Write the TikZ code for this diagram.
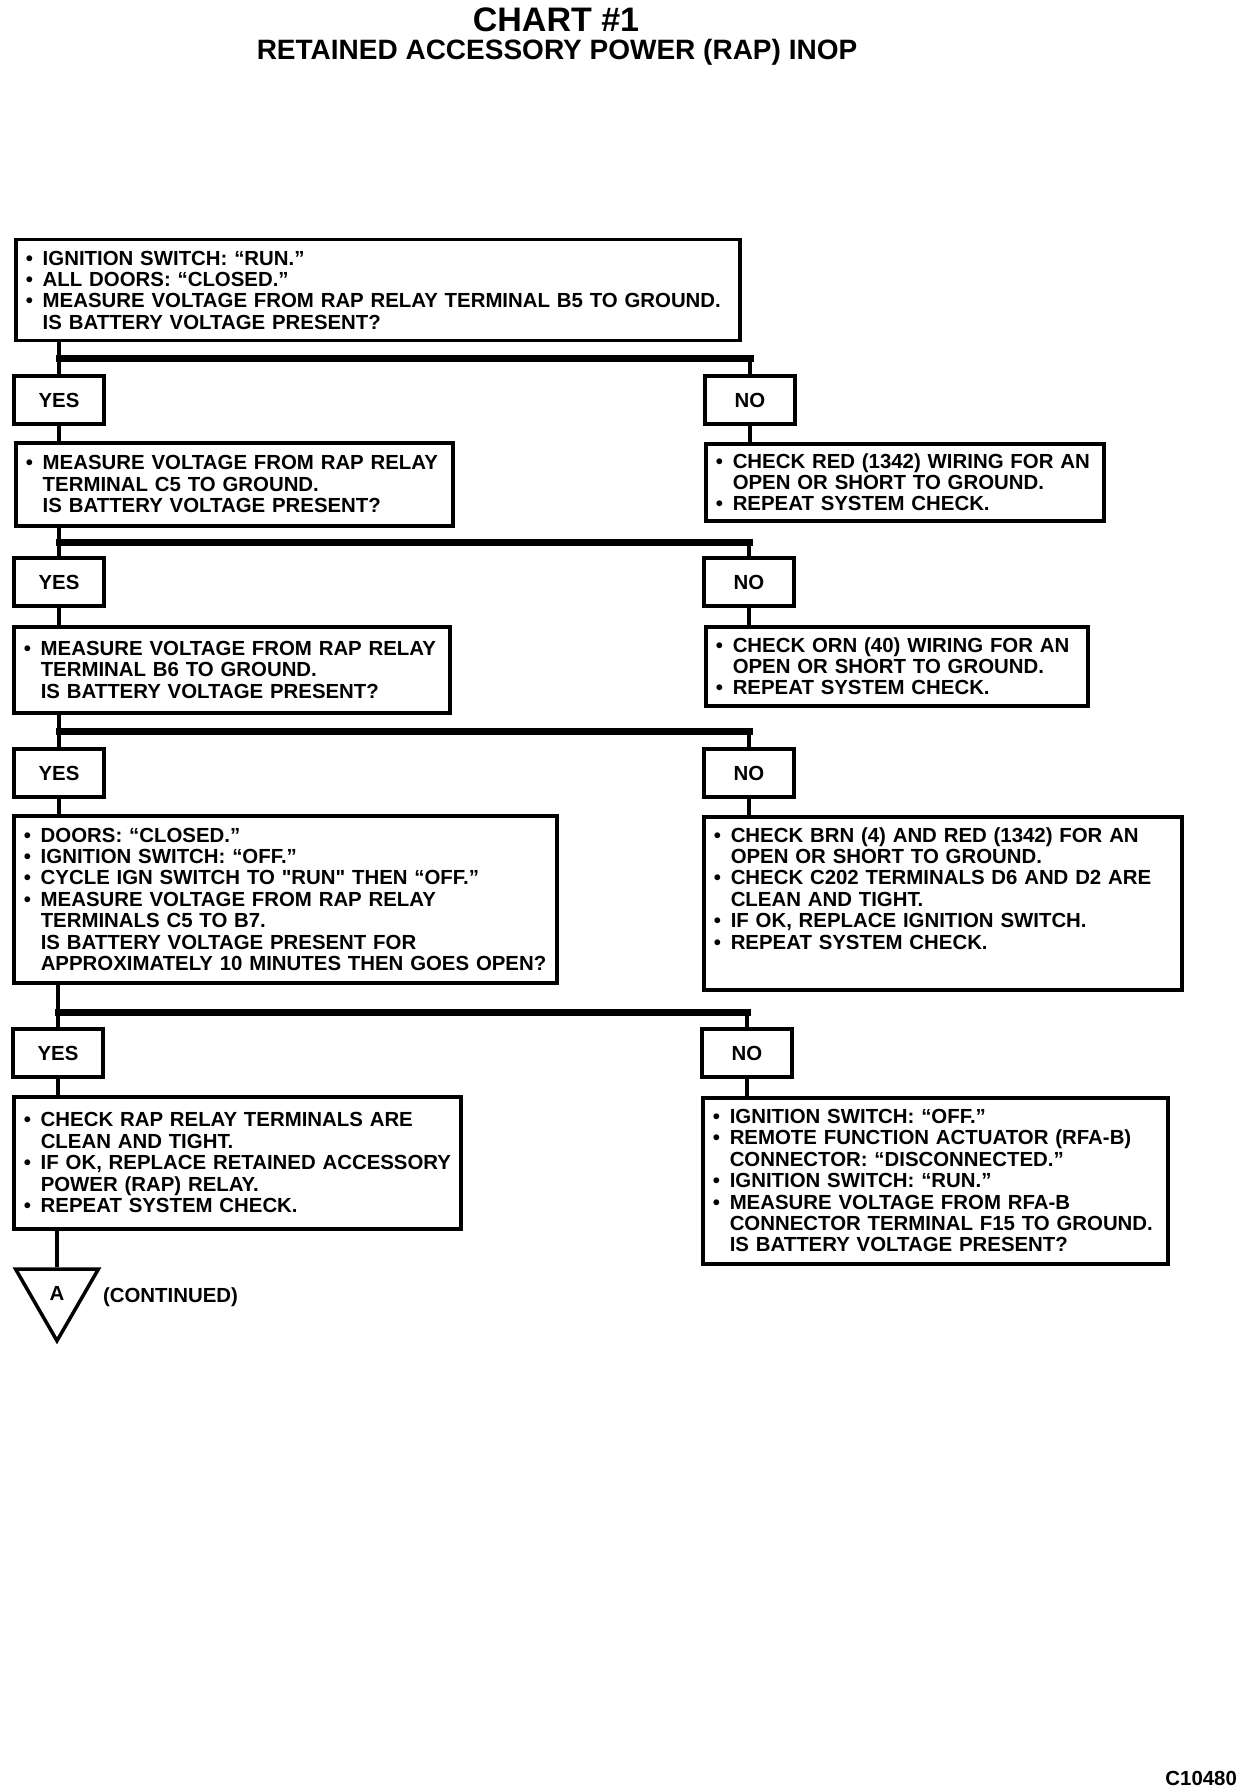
\documentclass[tikz,border=0pt]{standalone}
\usepackage{fontspec}
\setmainfont{Liberation Sans}
\usetikzlibrary{shapes.geometric}

\newcommand{\bul}[1]{\mbox{\makebox[8.5pt][l]{\textbullet}#1}}
\newcommand{\ind}[1]{\mbox{\hspace*{8.5pt}#1}}
\newcommand{\chartfont}{\fontsize{10.2pt}{10.7pt}\selectfont\bfseries\parindent=0pt}

\tikzset{
  stepbox/.style={draw, line width=1.75pt, anchor=north west, inner xsep=5pt, inner ysep=0pt, align=left, font=\chartfont},
  answer/.style={draw, line width=1.75pt, minimum width=45pt, minimum height=24pt, inner sep=0pt, font=\chartfont},
  vline/.style={line width=2.2pt},
  hbar/.style={line width=3.5pt, line cap=rect},
}

\begin{document}
\begin{tikzpicture}[x=0.5pt, y=-0.5pt]
   \useasboundingbox (0,0) rectangle (1248,1792);
   \fill[white] (0,0) rectangle (1248,1792);

   % title
   \node[font=\fontsize{17pt}{17pt}\selectfont\bfseries] (chart) at (556,20) {CHART \#1};
   \node[font=\fontsize{14pt}{14pt}\selectfont\bfseries] (title) at (557,52) {RETAINED ACCESSORY POWER (RAP) INOP};

   % first check
   \node[stepbox, text width=352pt, minimum height=50.5pt] (rapb5) at (14,238) {\bul{IGNITION SWITCH: “RUN.”}\\ \bul{ALL DOORS: “CLOSED.”}\\ \bul{MEASURE VOLTAGE FROM RAP RELAY TERMINAL B5 TO GROUND.}\\ \ind{IS BATTERY VOLTAGE PRESENT?}};
   \node[answer] (yes1) at (59,400) {YES};
   \node[answer] (no1) at (750,400) {NO};

   % second check
   \node[stepbox, text width=208.5pt, minimum height=41.5pt] (rapc5) at (14,441) {\bul{MEASURE VOLTAGE FROM RAP RELAY}\\ \ind{TERMINAL C5 TO GROUND.}\\ \ind{IS BATTERY VOLTAGE PRESENT?}};
   \node[stepbox, text width=189pt, minimum height=38.5pt] (redwire) at (704,442) {\bul{CHECK RED (1342) WIRING FOR AN}\\ \ind{OPEN OR SHORT TO GROUND.}\\ \bul{REPEAT SYSTEM CHECK.}};
   \node[answer] (yes2) at (59,582) {YES};
   \node[answer] (no2) at (749,582) {NO};

   % third check
   \node[stepbox, text width=208pt, minimum height=43pt] (rapb6) at (12,625) {\bul{MEASURE VOLTAGE FROM RAP RELAY}\\ \ind{TERMINAL B6 TO GROUND.}\\ \ind{IS BATTERY VOLTAGE PRESENT?}};
   \node[stepbox, text width=181pt, minimum height=39.5pt] (ornwire) at (704,625) {\bul{CHECK ORN (40) WIRING FOR AN}\\ \ind{OPEN OR SHORT TO GROUND.}\\ \bul{REPEAT SYSTEM CHECK.}};
   \node[answer] (yes3) at (59,773) {YES};
   \node[answer] (no3) at (749,773) {NO};

   % fourth check
   \node[stepbox, text width=261.5pt, minimum height=83.5pt] (rapc5b7) at (12,814) {\bul{DOORS: “CLOSED.”}\\ \bul{IGNITION SWITCH: “OFF.”}\\ \bul{CYCLE IGN SWITCH TO \textquotedbl RUN\textquotedbl\ THEN “OFF.”}\\ \bul{MEASURE VOLTAGE FROM RAP RELAY}\\ \ind{TERMINALS C5 TO B7.}\\ \ind{IS BATTERY VOLTAGE PRESENT FOR}\\ \ind{APPROXIMATELY 10 MINUTES THEN GOES OPEN?}};
   \node[stepbox, text width=229pt, minimum height=86.5pt] (brnwire) at (702,815) {\bul{CHECK BRN (4) AND RED (1342) FOR AN}\\ \ind{OPEN OR SHORT TO GROUND.}\\ \bul{CHECK C202 TERMINALS D6 AND D2 ARE}\\ \ind{CLEAN AND TIGHT.}\\ \bul{IF OK, REPLACE IGNITION SWITCH.}\\ \bul{REPEAT SYSTEM CHECK.}\rule[-15pt]{0pt}{15pt}};
   \node[answer] (yes4) at (58,1053) {YES};
   \node[answer] (no4) at (747,1053) {NO};

   % last boxes
   \node[stepbox, text width=213.5pt, minimum height=66pt] (relayclean) at (12,1095) {\bul{CHECK RAP RELAY TERMINALS ARE}\\ \ind{CLEAN AND TIGHT.}\\ \bul{IF OK, REPLACE RETAINED ACCESSORY}\\ \ind{POWER (RAP) RELAY.}\\ \bul{REPEAT SYSTEM CHECK.}};
   \node[stepbox, text width=222.5pt, minimum height=83pt] (rfab) at (701,1096) {\bul{IGNITION SWITCH: “OFF.”}\\ \bul{REMOTE FUNCTION ACTUATOR (RFA-B)}\\ \ind{CONNECTOR: “DISCONNECTED.”}\\ \bul{IGNITION SWITCH: “RUN.”}\\ \bul{MEASURE VOLTAGE FROM RFA-B}\\ \ind{CONNECTOR TERMINAL F15 TO GROUND.}\\ \ind{IS BATTERY VOLTAGE PRESENT?}};

   % continued
   \node[draw, line width=1.75pt, regular polygon, regular polygon sides=3, shape border rotate=180, minimum size=47.8pt, inner sep=0pt, font=\chartfont] (contA) at (57,1293) {A};
   \node[anchor=west, font=\chartfont] (cont) at (96,1297) {(CONTINUED)};
   \node[anchor=east, font=\chartfont] (figno) at (1244,1778) {C10480};

   % splits
   \coordinate (split1) at (0,359);
   \coordinate (split2) at (0,542);
   \coordinate (split3) at (0,731);
   \coordinate (split4) at (0,1012);

   \draw[vline] (yes1.north |- rapb5.south) -- (yes1.north);
   \draw[hbar] (split1 -| yes1) -- (split1 -| no1);
   \draw[vline] (split1 -| no1) -- (no1.north);
   \draw[vline] (yes1.south) -- (yes1.south |- rapc5.north);
   \draw[vline] (no1.south) -- (no1.south |- redwire.north);

   \draw[vline] (yes2.north |- rapc5.south) -- (yes2.north);
   \draw[hbar] (split2 -| yes2) -- (split2 -| no2);
   \draw[vline] (split2 -| no2) -- (no2.north);
   \draw[vline] (yes2.south) -- (yes2.south |- rapb6.north);
   \draw[vline] (no2.south) -- (no2.south |- ornwire.north);

   \draw[vline] (yes3.north |- rapb6.south) -- (yes3.north);
   \draw[hbar] (split3 -| yes3) -- (split3 -| no3);
   \draw[vline] (split3 -| no3) -- (no3.north);
   \draw[vline] (yes3.south) -- (yes3.south |- rapc5b7.north);
   \draw[vline] (no3.south) -- (no3.south |- brnwire.north);

   \draw[vline] (yes4.north |- rapc5b7.south) -- (yes4.north);
   \draw[hbar] (split4 -| yes4) -- (split4 -| no4);
   \draw[vline] (split4 -| no4) -- (no4.north);
   \draw[vline] (yes4.south) -- (yes4.south |- relayclean.north);
   \draw[vline] (no4.south) -- (no4.south |- rfab.north);

   \draw[vline] (contA.north |- relayclean.south) -- (contA.north);
\end{tikzpicture}
\end{document}
